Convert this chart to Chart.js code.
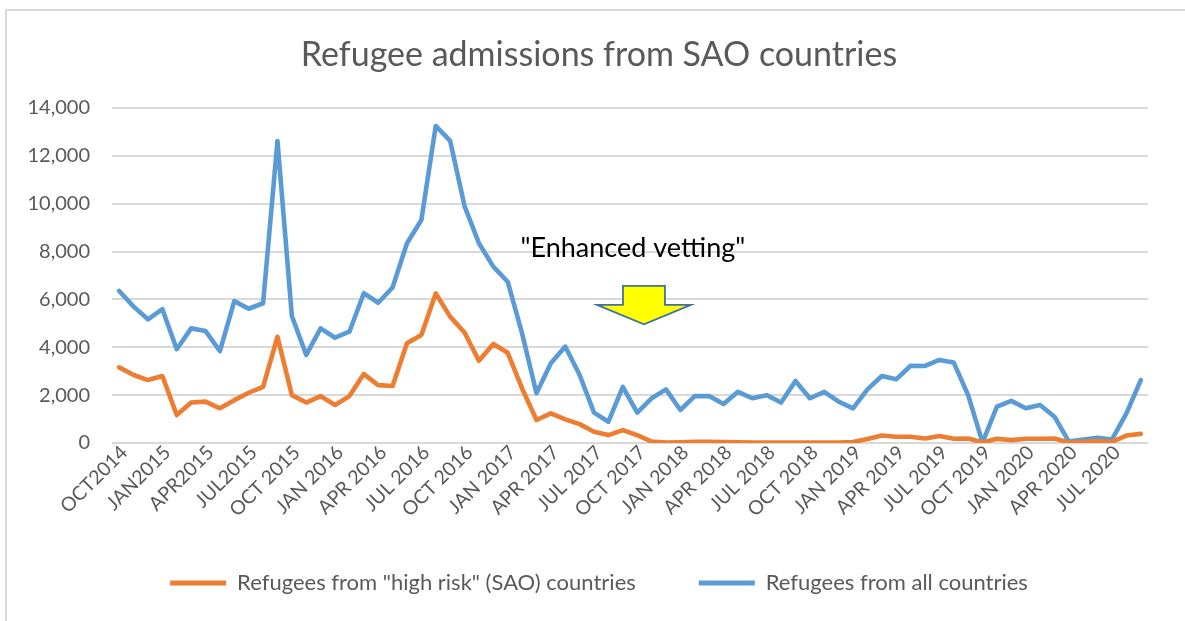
<!DOCTYPE html>
<html>
<head>
<meta charset="utf-8">
<script src="https://cdn.jsdelivr.net/npm/chart.js@4/dist/chart.umd.min.js"></script>
<style>
  html, body { margin: 0; padding: 0; background: #ffffff; }
  #wrap { width: 1185px; height: 621px; }
</style>
</head>
<body>
<div id="wrap"><canvas id="c" width="1185" height="621"></canvas></div>
<script>
const categories = [
  "OCT2014","NOV2014","DEC2014",
  "JAN2015","FEB2015","MAR2015","APR2015","MAY2015","JUN2015","JUL2015","AUG2015","SEP2015",
  "OCT 2015","NOV 2015","DEC 2015",
  "JAN 2016","FEB 2016","MAR 2016","APR 2016","MAY 2016","JUN 2016","JUL 2016","AUG 2016","SEP 2016",
  "OCT 2016","NOV 2016","DEC 2016",
  "JAN 2017","FEB 2017","MAR 2017","APR 2017","MAY 2017","JUN 2017","JUL 2017","AUG 2017","SEP 2017",
  "OCT 2017","NOV 2017","DEC 2017",
  "JAN 2018","FEB 2018","MAR 2018","APR 2018","MAY 2018","JUN 2018","JUL 2018","AUG 2018","SEP 2018",
  "OCT 2018","NOV 2018","DEC 2018",
  "JAN 2019","FEB 2019","MAR 2019","APR 2019","MAY 2019","JUN 2019","JUL 2019","AUG 2019","SEP 2019",
  "OCT 2019","NOV 2019","DEC 2019",
  "JAN 2020","FEB 2020","MAR 2020","APR 2020","MAY 2020","JUN 2020","JUL 2020","AUG 2020","SEP 2020"
];

const highRiskSAO = [
  3160, 2840, 2630, 2800, 1170, 1690, 1730, 1450, 1790, 2100, 2350, 4440,
  2000, 1690, 1960, 1590, 1960, 2880, 2420, 2380, 4170, 4510, 6250, 5280,
  4620, 3440, 4140, 3770, 2280, 960, 1240, 990, 790, 470, 330, 540,
  330, 60, 20, 30, 50, 50, 40, 30, 20, 20, 20, 20,
  20, 20, 20, 40, 170, 310, 260, 260, 190, 290, 180, 190,
  20, 180, 120, 180, 180, 190, 20, 50, 80, 50, 310, 380
];

const allCountries = [
  6350, 5700, 5170, 5590, 3920, 4790, 4680, 3840, 5930, 5610, 5840, 12620,
  5310, 3680, 4790, 4400, 4650, 6260, 5860, 6500, 8350, 9320, 13250, 12630,
  9900, 8350, 7370, 6740, 4580, 2080, 3330, 4030, 2840, 1270, 890, 2350,
  1270, 1870, 2240, 1380, 1960, 1960, 1630, 2140, 1870, 2000, 1690, 2590,
  1870, 2140, 1730, 1450, 2240, 2800, 2660, 3230, 3220, 3470, 3360, 2000,
  20, 1520, 1760, 1450, 1590, 1100, 60, 150, 220, 150, 1240, 2630
];

const seriesNames = ['Refugees from "high risk" (SAO) countries', 'Refugees from all countries'];
const titleText = 'Refugee admissions from SAO countries';
const yTicks = [0, 2000, 4000, 6000, 8000, 10000, 12000, 14000];

// annotation, located in data space (category index, value)
const annotationText = '"Enhanced vetting"';
const annotationAt = { index: 35.7, value: 8150 };
const arrowAt = { index: 36.47, top: 6570, neck: 5770, tip: 4960 };

const FONT = 'Lato, "Open Sans", "Noto Sans", sans-serif';
const GREY = '#595959';

const frame = {
  id: 'frame',
  beforeDraw(chart) {
    // let tick labels overflow their scale boxes (as in the original)
    Object.values(chart.scales).forEach(s => { s._computeLabelArea = () => undefined; });
    const ctx = chart.ctx;
    ctx.save();
    ctx.fillStyle = '#ffffff';
    ctx.fillRect(0, 0, chart.width, chart.height);
    ctx.strokeStyle = '#d9d9d9';
    ctx.lineWidth = 2;
    ctx.beginPath();
    ctx.moveTo(6, chart.height);
    ctx.lineTo(6, 10);
    ctx.lineTo(chart.width, 10);
    ctx.stroke();
    ctx.restore();
  }
};

const callout = {
  id: 'callout',
  afterDatasetsDraw(chart) {
    const ctx = chart.ctx;
    const x = chart.scales.x, y = chart.scales.y;
    ctx.save();
    ctx.font = '27px ' + FONT;
    ctx.fillStyle = '#000000';
    ctx.textAlign = 'center';
    ctx.textBaseline = 'middle';
    ctx.fillText(annotationText, x.getPixelForValue(annotationAt.index), y.getPixelForValue(annotationAt.value));
    const cx = x.getPixelForValue(arrowAt.index);
    const top = y.getPixelForValue(arrowAt.top);
    const neck = y.getPixelForValue(arrowAt.neck);
    const tip = y.getPixelForValue(arrowAt.tip);
    const shaft = 21, head = 47;
    ctx.beginPath();
    ctx.moveTo(cx - shaft, top);
    ctx.lineTo(cx + shaft, top);
    ctx.lineTo(cx + shaft, neck);
    ctx.lineTo(cx + head, neck);
    ctx.lineTo(cx, tip);
    ctx.lineTo(cx - head, neck);
    ctx.lineTo(cx - shaft, neck);
    ctx.closePath();
    ctx.fillStyle = '#ffff00';
    ctx.fill();
    ctx.strokeStyle = '#41719c';
    ctx.lineWidth = 1.8;
    ctx.lineJoin = 'miter';
    ctx.stroke();
    ctx.restore();
  }
};

new Chart(document.getElementById('c'), {
  type: 'line',
  data: {
    labels: categories,
    datasets: [
      {
        label: seriesNames[0],
        data: highRiskSAO,
        borderColor: '#ed7d31',
        backgroundColor: '#ed7d31',
        borderWidth: 4.6,
        pointRadius: 0,
        tension: 0,
        borderJoinStyle: 'round',
        borderCapStyle: 'round'
      },
      {
        label: seriesNames[1],
        data: allCountries,
        borderColor: '#5b9bd5',
        backgroundColor: '#5b9bd5',
        borderWidth: 4.6,
        pointRadius: 0,
        tension: 0,
        borderJoinStyle: 'round',
        borderCapStyle: 'round'
      }
    ]
  },
  options: {
    responsive: false,
    animation: false,
    layout: { padding: { left: 50, right: 37, top: 0, bottom: 17 } },
    plugins: {
      title: {
        display: true,
        text: titleText,
        color: GREY,
        font: { family: FONT, size: 34, weight: 'normal' },
        padding: { top: 35, bottom: 32.2 }
      },
      legend: {
        position: 'bottom',
        labels: {
          color: GREY,
          font: { family: FONT, size: 22 },
          boxWidth: 56,
          boxHeight: 5,
          padding: 63,
          generateLabels(chart) {
            return chart.data.datasets.map((ds, i) => ({
              text: ds.label,
              fillStyle: ds.borderColor,
              strokeStyle: ds.borderColor,
              lineWidth: 0,
              fontColor: GREY,
              hidden: false,
              datasetIndex: i
            }));
          }
        }
      },
      tooltip: { enabled: false }
    },
    scales: {
      x: {
        offset: true,
        grid: { display: false, drawTicks: false },
        border: { display: false },
        afterFit(scale) { scale.height = 66; },
        ticks: {
          autoSkip: false,
          minRotation: 45,
          maxRotation: 45,
          padding: -2,
          labelOffset: 5,
          color: GREY,
          font: { family: FONT, size: 19.5 },
          callback(val, i) { return i % 3 === 0 ? this.getLabelForValue(val) : null; }
        }
      },
      y: {
        min: 0,
        max: 14000,
        afterFit(scale) { scale.width = 62; },
        afterBuildTicks(scale) { scale.ticks = yTicks.map(v => ({ value: v })); },
        grid: { color: '#d9d9d9', lineWidth: 2, drawTicks: false },
        border: { display: false },
        ticks: {
          padding: 22,
          color: GREY,
          font: { family: FONT, size: 20 },
          callback(v) { return v.toLocaleString('en-US'); }
        }
      }
    }
  },
  plugins: [frame, callout]
});
</script>
</body>
</html>
